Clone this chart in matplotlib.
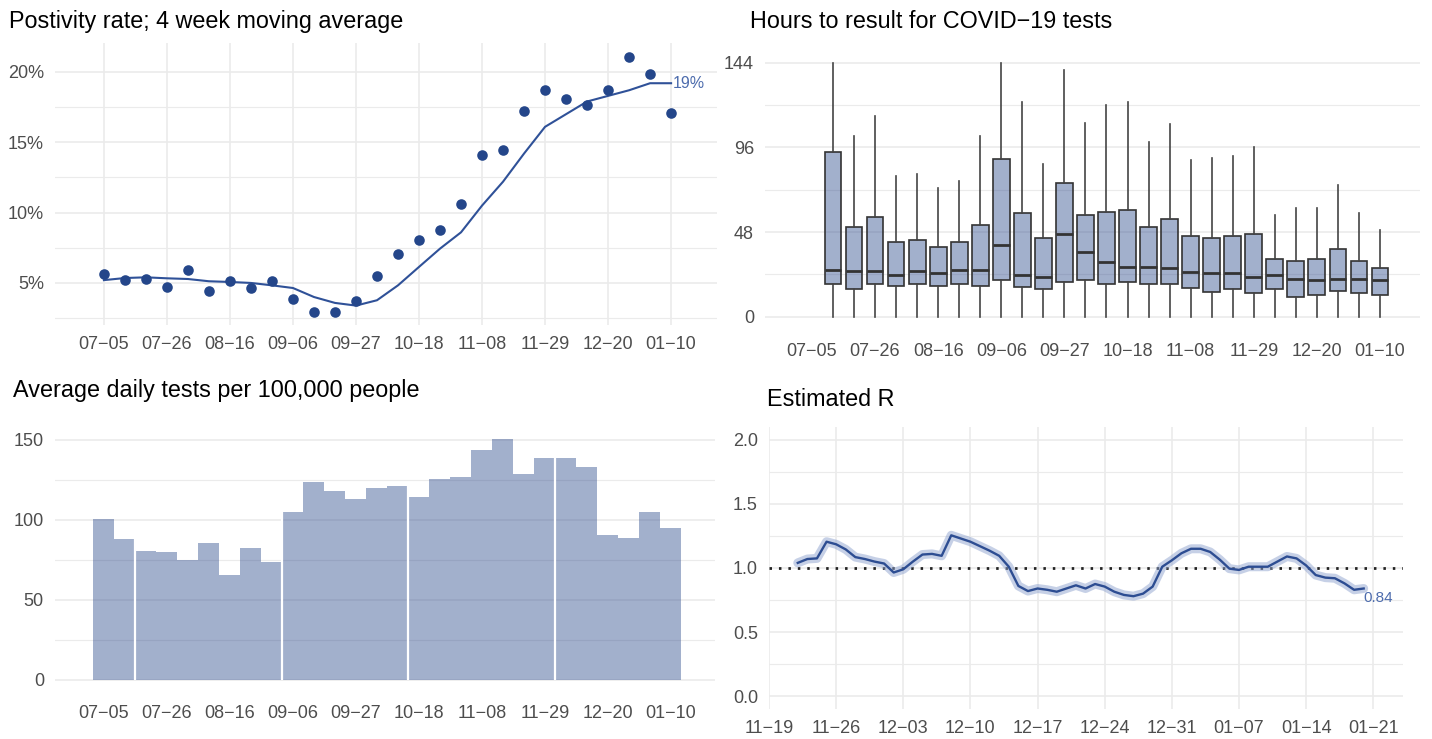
import matplotlib
matplotlib.use('Agg')
import matplotlib.pyplot as plt
import matplotlib.dates as mdates
from matplotlib.ticker import FixedLocator, FuncFormatter
import pandas as pd

plt.rcParams['font.family'] = ['Liberation Sans', 'DejaVu Sans']

W, H, DPI = 1432, 739, 100

# ---------------- data ----------------
week_dates = pd.date_range('2020-07-05', '2021-01-10', freq='7D')
positivity_pct = [5.62, 5.24, 5.28, 4.74, 5.95, 4.46, 5.17, 4.62, 5.17, 3.87,
                  2.92, 2.92, 3.70, 5.47, 7.08, 8.08, 8.74, 10.59, 14.08, 14.43,
                  17.23, 18.74, 18.10, 17.63, 18.74, 21.07, 19.88, 17.09]
positivity_4wk = [5.20, 5.35, 5.40, 5.33, 5.28, 5.12, 5.07, 5.00, 4.83, 4.64,
                  4.00, 3.58, 3.39, 3.77, 4.83, 6.14, 7.44, 8.60, 10.50, 12.20,
                  14.20, 16.10, 17.00, 17.90, 18.30, 18.70, 19.20, 19.20]

box_dates = pd.date_range('2020-07-12', '2021-01-10', freq='7D')
hours_whishi = [144, 102.6, 113.8, 79.8, 80.9, 72.8, 76.7, 102.6, 144, 121.9,
                86.6, 139.9, 110, 120, 121.9, 98.9, 109, 88.8, 89.8, 91.1,
                96, 57.7, 61.8, 61.8, 74.7, 58.6, 49.1]
hours_q3 = [93.6, 50.7, 56.7, 42.5, 43.7, 39.3, 42.5, 52.0, 89.2, 58.6,
            44.6, 75.6, 57.7, 59.5, 60.5, 51.0, 55.4, 45.7, 44.4, 45.7,
            46.9, 32.7, 31.8, 32.7, 38.4, 31.8, 27.4]
hours_med = [26.5, 25.9, 25.9, 23.4, 25.7, 24.6, 26.7, 26.7, 40.6, 23.4,
             22.3, 46.9, 36.9, 30.8, 28.4, 28.4, 27.4, 25.5, 24.6, 24.6,
             22.3, 23.4, 21.4, 20.8, 21.4, 21.4, 20.8]
hours_q1 = [18.5, 15.9, 18.5, 17.4, 18.5, 17.4, 18.5, 17.4, 20.8, 16.6,
            15.7, 19.5, 20.8, 18.5, 19.5, 18.3, 18.5, 16.4, 14.2, 15.5,
            13.6, 15.9, 11.3, 12.3, 14.6, 13.2, 12.3]
hours_whislo = [0, 0, 0, 0, 0, 0, 0, 0, 0, 0, 0, 0, 0, 0, 0, 0, 0, 0, 0, 0,
                0, 0, 0, 0, 0, 0, 0]

tests_per_100k = [100.8, 88.1, 80.8, 79.8, 75.2, 85.8, 65.8, 82.3, 74.0, 104.8,
                  123.5, 117.9, 112.9, 119.8, 121.3, 114.2, 125.8, 127.1, 143.8, 150.6,
                  128.5, 139.0, 139.0, 132.9, 90.4, 88.5, 104.8, 95.2]
bar_gap_after = [1, 8, 14, 21]

r_dates = pd.date_range('2020-11-22', '2021-01-20', freq='D')
r_values = [1.04, 1.07, 1.075, 1.205, 1.185, 1.145, 1.085, 1.07, 1.05,
            1.035, 0.965, 0.99, 1.05, 1.105, 1.11, 1.095, 1.255, 1.23, 1.205,
            1.17, 1.135, 1.095, 1.01, 0.86, 0.82, 0.84, 0.83, 0.815, 0.84,
            0.865, 0.84, 0.875, 0.855, 0.815, 0.79, 0.78, 0.80, 0.855, 1.01, 1.06,
            1.115, 1.15, 1.15, 1.125, 1.065, 0.995, 0.985, 1.01, 1.01, 1.01,
            1.05, 1.09, 1.075, 1.02, 0.945, 0.925, 0.92, 0.88, 0.83, 0.84]
r_tick_dates = pd.date_range('2020-11-19', '2021-01-21', freq='7D')

# ---------------- style ----------------
BLUE = '#24468a'
FILL = (45 / 255, 75 / 255, 140 / 255, 0.44)
GRID = '#ebebeb'
TXT = '#4d4d4d'
LABEL_BLUE = '#4d6cad'
TICK_FS = 13
TITLE_FS = 16.8

fig = plt.figure(figsize=(W / DPI, H / DPI), dpi=DPI)


def px_axes(x0, y0, x1, y1):
    return fig.add_axes([x0 / W, 1 - y1 / H, (x1 - x0) / W, (y1 - y0) / H])


def date_fmt(v, p):
    d = mdates.num2date(v)
    return d.strftime('%m') + '\u2212' + d.strftime('%d')


def style(ax, xpad, ypad=8, xgrid=True):
    for s in ax.spines.values():
        s.set_visible(False)
    ax.tick_params(axis='both', which='both', length=0, labelsize=TICK_FS, colors=TXT)
    ax.tick_params(axis='x', pad=xpad)
    ax.tick_params(axis='y', pad=ypad)
    ax.set_axisbelow(True)
    ax.grid(axis='y', which='major', color=GRID, lw=1.2)
    ax.grid(axis='y', which='minor', color=GRID, lw=0.8)
    if xgrid:
        ax.grid(axis='x', which='major', color=GRID, lw=1.2)
    else:
        ax.grid(axis='x', which='both', visible=False)
    ax.xaxis.set_major_formatter(FuncFormatter(date_fmt))


def days(n):
    return pd.Timedelta(days=n)


week_ticks = mdates.date2num(week_dates[::3])

# ---- top-left: positivity ----
ax1 = px_axes(55, 43, 717, 325)
ax1.scatter(week_dates, positivity_pct, s=58, color=BLUE, zorder=3, linewidths=0)
ax1.plot(week_dates, positivity_4wk, color='#2f5198', lw=1.5, zorder=2)
ax1.annotate(f"{round(positivity_4wk[-1])}%", xy=(week_dates[-1], positivity_4wk[-1]),
             xytext=(1, 0), textcoords='offset points', ha='left', va='center',
             fontsize=11.5, color=LABEL_BLUE)
ax1.set_xlim(week_dates[0] - days(16.3), week_dates[-1] + days(15.3))
ax1.set_ylim(2.01, 22.06)
ax1.yaxis.set_major_locator(FixedLocator([5, 10, 15, 20]))
ax1.yaxis.set_minor_locator(FixedLocator([2.5, 7.5, 12.5, 17.5]))
ax1.yaxis.set_major_formatter(FuncFormatter(lambda v, p: f"{v:.0f}%"))
ax1.xaxis.set_major_locator(FixedLocator(week_ticks))
style(ax1, xpad=8)

# ---- top-right: hours box plots ----
ax2 = px_axes(765, 50, 1420, 329.4)
stats = []
for lo, q1, med, q3, hi in zip(hours_whislo, hours_q1, hours_med, hours_q3, hours_whishi):
    stats.append(dict(whislo=lo, q1=q1, med=med, q3=q3, whishi=hi, fliers=[]))
ax2.bxp(stats, positions=mdates.date2num(box_dates), widths=5.6, patch_artist=True,
        showfliers=False, showcaps=False, manage_ticks=False,
        boxprops=dict(facecolor=FILL, edgecolor='#333333', linewidth=1.2),
        medianprops=dict(color='#333333', linewidth=2.0),
        whiskerprops=dict(color='#444444', linewidth=1.2))
ax2.set_xlim(mdates.date2num(week_dates[0] - days(15.6)),
             mdates.date2num(week_dates[-1] + days(13.3)))
ax2.set_ylim(-7.2, 151.2)
ax2.yaxis.set_major_locator(FixedLocator([0, 48, 96, 144]))
ax2.yaxis.set_minor_locator(FixedLocator([24, 72, 120]))
ax2.yaxis.set_major_formatter(FuncFormatter(lambda v, p: f"{v:.0f}"))
ax2.xaxis.set_major_locator(FixedLocator(week_ticks))
style(ax2, xpad=10, xgrid=False)

# ---- bottom-left: tests bars ----
ax3 = px_axes(55, 427, 715, 692)
ax3.bar(week_dates, tests_per_100k, width=7, color=FILL, edgecolor='none', zorder=2)
for i in bar_gap_after:
    ax3.vlines(week_dates[i] + days(3.5), 0, max(tests_per_100k[i], tests_per_100k[i + 1]),
               color='white', lw=1.6, zorder=3)
ax3.set_xlim(week_dates[0] - days(16.3), week_dates[-1] + days(14.7))
ax3.set_ylim(-7.5, 158.1)
ax3.yaxis.set_major_locator(FixedLocator([0, 50, 100, 150]))
ax3.yaxis.set_minor_locator(FixedLocator([25, 75, 125]))
ax3.yaxis.set_major_formatter(FuncFormatter(lambda v, p: f"{v:.0f}"))
ax3.xaxis.set_major_locator(FixedLocator(week_ticks))
style(ax3, xpad=9.5, xgrid=False)

# ---- bottom-right: estimated R ----
ax4 = px_axes(769, 427, 1403, 709)
ax4.axhline(1.0, color='#222222', lw=2.0, ls=(0, (0.9, 2.5)), zorder=2)
ax4.plot(r_dates, r_values, color='#8fa3cf', lw=6.5, alpha=0.5, zorder=3,
         solid_capstyle='round', solid_joinstyle='round')
ax4.plot(r_dates, r_values, color='#2d4d92', lw=1.7, zorder=4)
ax4.annotate(f"{r_values[-1]:.2f}", xy=(r_dates[-1], r_values[-1]),
             xytext=(0, -1.5), textcoords='offset points', ha='left', va='top',
             fontsize=11, color=LABEL_BLUE)
ax4.set_xlim(r_tick_dates[0], r_tick_dates[-1] + days(3.1))
ax4.set_ylim(-0.1, 2.1)
ax4.yaxis.set_major_locator(FixedLocator([0, 0.5, 1.0, 1.5, 2.0]))
ax4.yaxis.set_minor_locator(FixedLocator([0.25, 0.75, 1.25, 1.75]))
ax4.yaxis.set_major_formatter(FuncFormatter(lambda v, p: f"{v:.1f}"))
ax4.xaxis.set_major_locator(FixedLocator(mdates.date2num(r_tick_dates)))
style(ax4, xpad=8)

# ---- titles ----
fig.text(9 / W, 1 - 28 / H, 'Postivity rate; 4 week moving average',
         fontsize=TITLE_FS, ha='left', va='baseline')
fig.text(750 / W, 1 - 28 / H, 'Hours to result for COVID\u221219 tests',
         fontsize=TITLE_FS, ha='left', va='baseline')
fig.text(13 / W, 1 - 397 / H, 'Average daily tests per 100,000 people',
         fontsize=TITLE_FS, ha='left', va='baseline')
fig.text(767 / W, 1 - 406 / H, 'Estimated R',
         fontsize=TITLE_FS, ha='left', va='baseline')

fig.savefig('out.png', dpi=DPI, facecolor='white')
